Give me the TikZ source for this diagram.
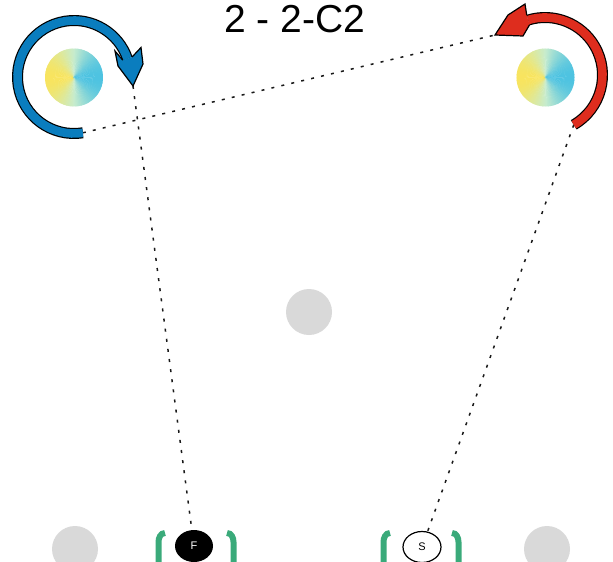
\documentclass[tikz,border=0pt]{standalone}
\usepackage{fontspec}
\setmainfont{Liberation Sans}
\usetikzlibrary{calc,shapes.geometric}
\definecolor{blueA}{RGB}{10,125,190}
\definecolor{redA}{RGB}{222,45,30}
\definecolor{greenB}{RGB}{58,170,122}
\definecolor{grayC}{RGB}{217,217,217}
\definecolor{gyel}{RGB}{248,228,95}
\definecolor{gblu}{RGB}{78,195,225}
\definecolor{gpal}{RGB}{200,236,205}
\definecolor{dotc}{RGB}{25,25,25}
\newcommand\mydiskfill[1]{%
  \foreach \a in {0,3,...,357}{%
    \pgfmathsetmacro\mycos{cos(\a+1.5)}%
    \pgfmathsetmacro\mywt{100*abs(\mycos)}%
    \ifdim\mycos pt>0pt\relax\colorlet{wc}{gblu!\mywt!gpal}\else\colorlet{wc}{gyel!\mywt!gpal}\fi
    \fill[wc] (#1) -- ++(\a-0.4:29) arc[start angle=\a-0.4, end angle=\a+3.8, radius=29] -- cycle;
  }%
  \fill[gpal!40!gblu] (#1) circle[radius=0.8];
}
\tikzset{
  grayball/.style={circle, fill=grayC, minimum size=46pt, inner sep=0pt},
  bracketline/.style={draw=greenB, line width=6pt},
  dotline/.style={draw=dotc, line width=1.5pt, dash pattern=on 3pt off 7.2pt},
  shaftout/.style={draw=black, line width=11pt},
  headline/.style={draw=black, line width=1.2pt, line join=miter},
  brackets/.pic={
    \draw[bracketline] (-31,-13) to[out=180,in=90] (-37.5,-4) -- (-37.5,30);
    \draw[bracketline] (31,-13) to[out=0,in=90] (37.5,-4) -- (37.5,30);
  }
}
\begin{document}
\begin{tikzpicture}[x=1pt,y=-1pt]
\useasboundingbox (0,0) rectangle (613,562);
\clip (0,0) rectangle (613,562);

% title
\node[font=\fontsize{39}{39}\selectfont, anchor=base, inner sep=0pt] (title) at (294.5,32) {2 - 2-C2};

% gray balls
\node[grayball] (g1) at (309,312) {};
\node[grayball] (g2) at (75,549) {};
\node[grayball] (g3) at (547,549) {};

% colour disks
\coordinate (lc) at (74,77.5);
\coordinate (rc) at (545.5,77.5);
\mydiskfill{lc}
\mydiskfill{rc}

% arrow centres and key points
\coordinate (bc) at (74,77);
\coordinate (redc) at (545,75);
\coordinate (btail) at ($(bc)+(81:56.5)$);
\coordinate (btip) at (133,86);
\coordinate (rtail) at ($(redc)+(60:57.5)$);
\coordinate (rtip) at (495,35);

% F and S nodes
\node[ellipse, fill=black, minimum width=38pt, minimum height=32pt, inner sep=0pt,
      text=white, font=\fontsize{11}{11}\selectfont] (F) at (194,546) {F};
\node[ellipse, draw=black, line width=1.2pt, fill=white, minimum width=38pt, minimum height=31pt,
      inner sep=0pt, font=\fontsize{11}{11}\selectfont] (S) at (422,547) {S};

% dotted connectors
\draw[dotline] (btip) -- (F);
\draw[dotline] (btail) -- (rtip);
\draw[dotline] (rtail) -- (S);

% blue arrow
\draw[shaftout] (btail) arc[start angle=81, end angle=341, radius=56.5];
\draw[draw=blueA, line width=8.6pt] (btail) arc[start angle=81, end angle=341, radius=56.5];
\fill[blueA] ($(bc)+(341:51.6)$) -- (115,51) -- (118,66) -- (btip) -- (143,64) -- (141,47.5) -- ($(bc)+(341:61.4)$) -- cycle;
\draw[headline] ($(bc)+(341:51.6)$) -- (115,51) -- (118,66) -- (btip) -- (143,64) -- (141,47.5) -- ($(bc)+(341:61.4)$);

% red arrow
\draw[shaftout] (rtail) arc[start angle=60, end angle=-107, radius=57.5];
\draw[draw=redA, line width=8.6pt] (rtail) arc[start angle=60, end angle=-107, radius=57.5];
\fill[redA] ($(redc)+(-107:62.4)$) -- (525,4) -- (508,15) -- (rtip) -- (523,36) -- ($(redc)+(-107:52.6)$) -- cycle;
\draw[headline] ($(redc)+(-107:62.4)$) -- (525,4) -- (508,15) -- (rtip) -- (523,36) -- ($(redc)+(-107:52.6)$);

% green brackets
\pic at (196,546) {brackets};
\pic at (421,546) {brackets};
\end{tikzpicture}
\end{document}
